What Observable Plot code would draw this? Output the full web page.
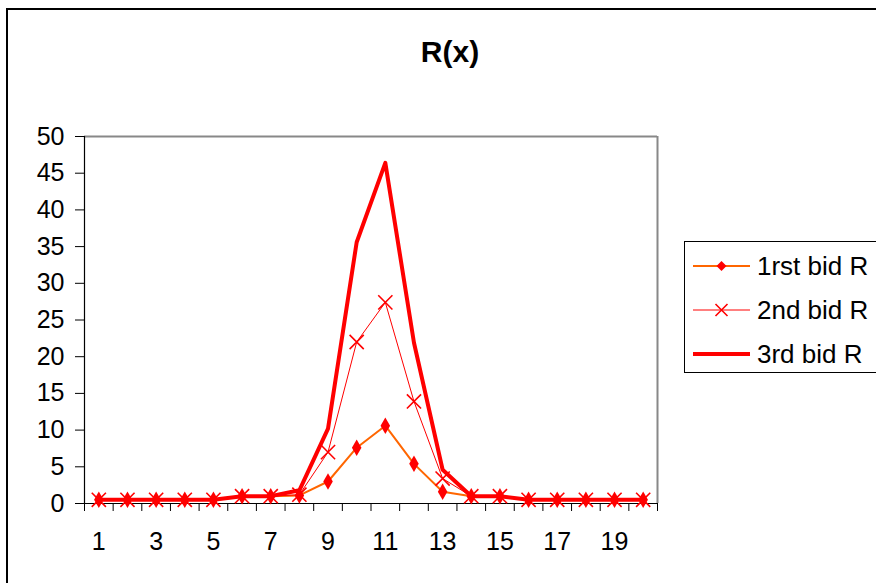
<!DOCTYPE html>
<html>
<head>
<meta charset="utf-8">
<script src="https://cdn.jsdelivr.net/npm/d3@7"></script>
<script src="https://cdn.jsdelivr.net/npm/@observablehq/plot@0.6"></script>
<style>
  html, body { margin: 0; padding: 0; background: #fff; }
  #wrap { position: relative; width: 876px; height: 583px; overflow: hidden; background: #fff; font-family: Arial, "Liberation Sans", sans-serif; }
  #frame { position: absolute; left: 6px; top: 8px; width: 1000px; height: 700px; border: 2px solid #000; box-sizing: border-box; }
  #title { position: absolute; left: 0; width: 900px; top: 37px; text-align: center; font-size: 30px; font-weight: bold; color: #000; line-height: 1; }
  #chart { position: absolute; left: 0; top: 0; }
  #legend { position: absolute; left: 684px; top: 241px; width: 300px; height: 132px; border: 1px solid #000; box-sizing: border-box; background: #fff; }
  .row { position: absolute; left: 8px; height: 30px; display: flex; align-items: center; }
  .row span { font-size: 26px; color: #000; margin-left: 6px; white-space: nowrap; }
</style>
</head>
<body>
<div id="wrap">
  <div id="frame"></div>
  <div id="title">R(x)</div>
  <div id="chart"></div>
  <div id="legend"></div>
</div>
<script>
// ---- data ----
const categories = [1, 2, 3, 4, 5, 6, 7, 8, 9, 10, 11, 12, 13, 14, 15, 16, 17, 18, 19, 20];
const bid1 = [0.5, 0.5, 0.5, 0.5, 0.5, 1, 1, 1.1, 3, 7.6, 10.6, 5.4, 1.6, 1, 1, 0.5, 0.5, 0.5, 0.5, 0.5];
const bid2 = [0.5, 0.5, 0.5, 0.5, 0.5, 1, 1, 1.2, 7, 22, 27.4, 13.9, 3.4, 1, 1, 0.5, 0.5, 0.5, 0.5, 0.5];
const bid3 = [0.5, 0.5, 0.5, 0.5, 0.5, 1, 1, 1.8, 10.2, 35.6, 46.4, 21.9, 4.6, 1, 1, 0.5, 0.5, 0.5, 0.5, 0.5];
const seriesNames = ["1rst bid R", "2nd bid R", "3rd bid R"];
const yTicks = [0, 5, 10, 15, 20, 25, 30, 35, 40, 45, 50];
const xLabels = [1, 3, 5, 7, 9, 11, 13, 15, 17, 19];

const rows = (vals) => categories.map((c, i) => ({x: c, y: vals[i]}));
const d1 = rows(bid1), d2 = rows(bid2), d3r = rows(bid3);
const xBounds = d3.range(categories.length + 1).map(i => categories[0] - 0.5 + i);
const xMin = categories[0] - 0.5, xMax = categories[categories.length - 1] + 0.5;

const font = "Arial, 'Liberation Sans', sans-serif";

const chart = Plot.plot({
  width: 876,
  height: 583,
  marginLeft: 84,
  marginRight: 219,
  marginTop: 136,
  marginBottom: 80,
  style: {fontFamily: font, fontSize: "25px", color: "#000", background: "transparent", overflow: "visible"},
  x: {type: "linear", domain: [xMin, xMax]},
  y: {domain: [0, 50]},
  marks: [
    Plot.ruleY([50], {stroke: "#888", strokeWidth: 2}),
    Plot.ruleX([xMax], {stroke: "#888", strokeWidth: 2}),
    Plot.axisY(yTicks, {tickSize: 9, tickPadding: 11, fontSize: 25, label: null, stroke: "#000"}),
    Plot.axisX(xBounds, {tickSize: 8, tickFormat: () => "", label: null, stroke: "#000"}),
    Plot.axisX(xLabels, {tickSize: 0, tickPadding: 29, fontSize: 25, label: null}),
    Plot.ruleX([xMin], {stroke: "#000", strokeWidth: 1.2}),
    Plot.ruleY([0], {stroke: "#000", strokeWidth: 1.2}),
    Plot.line(d1, {x: "x", y: "y", stroke: "#FF6600", strokeWidth: 2}),
    Plot.line(d2, {x: "x", y: "y", stroke: "#FF0000", strokeWidth: 1}),
    Plot.line(d3r, {x: "x", y: "y", stroke: "#FF0000", strokeWidth: 4}),
    Plot.dot(d1, {x: "x", y: "y", symbol: "diamond", fill: "#FF0000", r: 5}),
    Plot.dot(d2, {x: "x", y: "y", symbol: "times", stroke: "#FF0000", strokeWidth: 1.6, r: 6.5})
  ]
});
document.getElementById("chart").appendChild(chart);

// ---- legend ----
const legend = document.getElementById("legend");
const legendStyles = [
  {stroke: "#FF6600", w: 2, marker: "diamond"},
  {stroke: "#FF0000", w: 1, marker: "times"},
  {stroke: "#FF0000", w: 4, marker: null}
];
seriesNames.forEach((name, i) => {
  const row = document.createElement("div");
  row.className = "row";
  row.style.top = (9 + i * 44) + "px";
  const s = legendStyles[i];
  const ns = "http://www.w3.org/2000/svg";
  const svg = document.createElementNS(ns, "svg");
  svg.setAttribute("width", 58); svg.setAttribute("height", 30);
  const ln = document.createElementNS(ns, "line");
  ln.setAttribute("x1", 0); ln.setAttribute("x2", 57); ln.setAttribute("y1", 15); ln.setAttribute("y2", 15);
  ln.setAttribute("stroke", s.stroke); ln.setAttribute("stroke-width", s.w);
  svg.appendChild(ln);
  if (s.marker === "diamond") {
    const p = document.createElementNS(ns, "path");
    p.setAttribute("d", "M28.5,10L33.5,15L28.5,20L23.5,15Z");
    p.setAttribute("fill", "#FF0000");
    svg.appendChild(p);
  } else if (s.marker === "times") {
    const p = document.createElementNS(ns, "path");
    p.setAttribute("d", "M22.5,9L34.5,21M34.5,9L22.5,21");
    p.setAttribute("stroke", "#FF0000"); p.setAttribute("stroke-width", 1.6);
    svg.appendChild(p);
  }
  row.appendChild(svg);
  const t = document.createElement("span");
  t.textContent = name;
  row.appendChild(t);
  legend.appendChild(row);
});
</script>
</body>
</html>
